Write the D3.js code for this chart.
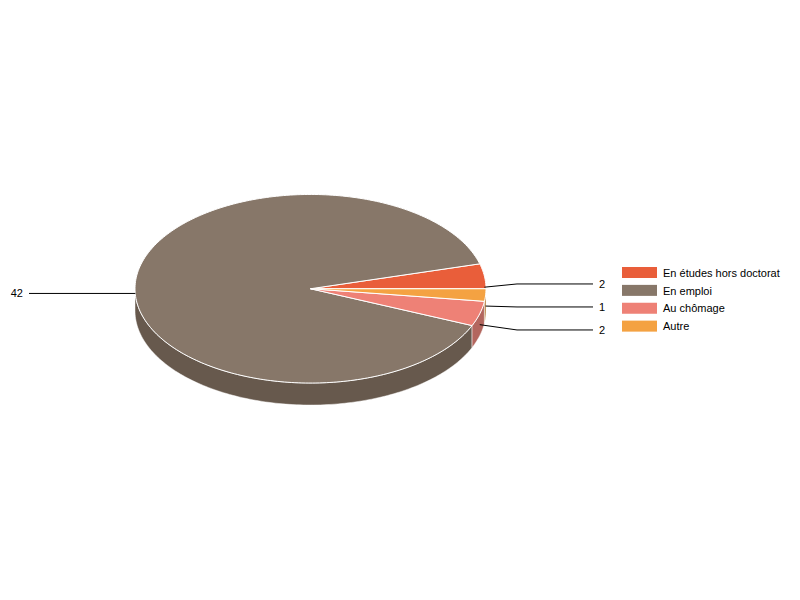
<!DOCTYPE html>
<html><head><meta charset="utf-8">
<script src="https://cdn.jsdelivr.net/npm/d3@7"></script>
<style>body{margin:0;background:#fff}svg{display:block}text{font-family:"Liberation Sans",Arial,sans-serif;font-size:11px;fill:#000}</style>
</head><body><svg id="c" width="800" height="600"></svg>
<script>
const categories = ["En études hors doctorat", "En emploi", "Au chômage", "Autre"];
const values = [2, 42, 2, 1];
const colors = ["#e95e3a", "#877769", "#ee8176", "#f4a242"];
const sideColors = ["#a8432a", "#67594d", "#b3665e", "#b07530"];

const svg = d3.select("#c");
const cx = 310.5, cy = 288.75, rx = 175.5, ry = 94.3, depth = 22;

const data = categories.map((c, i) => ({cat: c, value: values[i], color: colors[i], side: sideColors[i]}));
const pie = d3.pie().sort(null).value(d => d.value)
  .startAngle(Math.PI / 2).endAngle(Math.PI / 2 - 2 * Math.PI);
const arcs = pie(data);

const px = a => cx + rx * Math.sin(a);
const py = a => cy - ry * Math.cos(a);
const line = d3.line();
function samples(a0, a1) {
  const n = Math.max(2, Math.ceil(Math.abs(a1 - a0) / 0.02));
  return d3.range(n + 1).map(i => a0 + (a1 - a0) * i / n);
}

// side walls (front half only)
const gSide = svg.append("g");
const fronts = [[-1.5 * Math.PI, -0.5 * Math.PI], [0.5 * Math.PI, 1.5 * Math.PI]];
arcs.forEach(d => {
  const lo = Math.min(d.startAngle, d.endAngle), hi = Math.max(d.startAngle, d.endAngle);
  fronts.forEach(([f0, f1]) => {
    const s = Math.max(lo, f0), e = Math.min(hi, f1);
    if (e - s <= 1e-6) return;
    const ang = samples(s, e);
    const top = ang.map(a => [px(a), py(a)]);
    const bot = ang.slice().reverse().map(a => [px(a), py(a) + depth]);
    gSide.append("path").attr("d", line(top.concat(bot)) + "Z")
      .attr("fill", d.data.side).attr("stroke", "#fff").attr("stroke-opacity", 0.6).attr("stroke-width", 0.8);
  });
});

// top faces
const gTop = svg.append("g");
arcs.forEach(d => {
  const pts = [[cx, cy]].concat(samples(d.startAngle, d.endAngle).map(a => [px(a), py(a)]));
  gTop.append("path").attr("d", line(pts) + "Z")
    .attr("fill", d.data.color).attr("stroke", "#fff").attr("stroke-width", 1).attr("stroke-linejoin", "round");
});

// labels
const labels = arcs.map(d => {
  const m = (d.startAngle + d.endAngle) / 2;
  const x = px(m), y = py(m) + depth / 2;
  return {d, x, y, right: x > cx, ly: y};
});
function spread(list) {
  list.sort((a, b) => a.y - b.y);
  const gap = 23;
  if (list.length < 2) return;
  const mean = d3.mean(list, l => l.y) + 1;
  list.forEach((l, i) => { l.ly = mean + (i - (list.length - 1) / 2) * gap; });
}
spread(labels.filter(l => l.right));
spread(labels.filter(l => !l.right));

const gLab = svg.append("g");
labels.forEach(l => {
  const bend = l.right ? cx + rx + 31 : cx - rx - 35;
  const end = l.right ? cx + rx + 107 : cx - rx - 106;
  gLab.append("path").attr("d", d3.line()([[l.x, l.y], [bend, l.ly], [end, l.ly]]))
    .attr("fill", "none").attr("stroke", "#000").attr("stroke-width", 1);
  gLab.append("text").attr("x", l.right ? end + 6 : end - 6).attr("y", l.ly).attr("dy", "0.35em")
    .attr("text-anchor", l.right ? "start" : "end").text(l.d.data.value);
});

// legend
const lg = svg.append("g").attr("transform", "translate(622,267)");
const row = d3.scaleBand().domain(categories).range([0, 71.5]);
categories.forEach((c, i) => {
  const g = lg.append("g").attr("transform", `translate(0,${row(c)})`);
  g.append("rect").attr("width", 35).attr("height", 11).attr("fill", colors[i]);
  g.append("text").attr("x", 41).attr("y", 5.8).attr("dy", "0.35em").text(c);
});
</script></body></html>
